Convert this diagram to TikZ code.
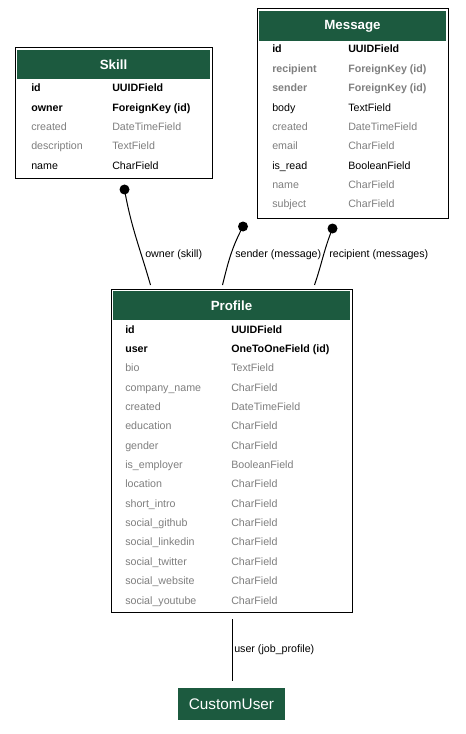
\documentclass[tikz,border=0pt]{standalone}
\usepackage{fontspec}
\setmainfont{Liberation Sans}
\definecolor{hdr}{HTML}{1C5A3F}
\definecolor{gr}{HTML}{7F7F7F}
\begin{document}
\begin{tikzpicture}[x=0.75pt,y=-0.75pt,
  tbl/.style={draw=black, line width=0.75pt, fill=white, inner sep=0pt},
  hdrbox/.style={fill=hdr, text=white, inner sep=0pt, font=\fontsize{10}{12}\selectfont\bfseries},
  fld/.style={anchor=base west, inner sep=0pt, font=\fontsize{8}{10}\selectfont},
  fb/.style={fld, font=\fontsize{8}{10}\selectfont\bfseries, text=black},
  fbg/.style={fld, font=\fontsize{8}{10}\selectfont\bfseries, text=gr},
  fn/.style={fld, text=black},
  fg/.style={fld, text=gr},
  dot/.style={circle, fill=black, inner sep=0pt, minimum size=7.5pt},
  edge/.style={draw=black, line width=0.75pt},
  elabel/.style={anchor=base west, inner sep=0pt, font=\fontsize{8}{10}\selectfont}
]
\useasboundingbox (0,0) rectangle (465,734);
\fill[white] (0,0) rectangle (465,734);

% ---------- Skill ----------
\node[tbl, minimum width=147.75pt, minimum height=98.25pt] (skill) at (113.5,113.5) {};
\node[hdrbox, minimum width=144.75pt, minimum height=21.75pt] (skillh) at (113.5,64.5) {Skill};
\foreach \a/\b/\st [count=\i] in {id/UUIDField/fb, owner/ForeignKey (id)/fb, created/DateTimeField/fg, description/TextField/fg, name/CharField/fn}{
  \pgfmathsetmacro{\yy}{92+(\i-1)*19.3}
  \node[\st] (skill-a\i) at (31,\yy) {\a};
  \node[\st] (skill-b\i) at (112,\yy) {\b};
}

% ---------- Message ----------
\node[tbl, minimum width=143.25pt, minimum height=156.75pt] (message) at (352.5,113.5) {};
\node[hdrbox, minimum width=140.25pt, minimum height=22.5pt] (messageh) at (352.5,26) {Message};
\foreach \a/\b/\st [count=\i] in {id/UUIDField/fb, recipient/ForeignKey (id)/fbg, sender/ForeignKey (id)/fbg, body/TextField/fn, created/DateTimeField/fg, email/CharField/fg, is\_read/BooleanField/fn, name/CharField/fg, subject/CharField/fg}{
  \pgfmathsetmacro{\yy}{53+(\i-1)*19.37}
  \node[\st] (message-a\i) at (272,\yy) {\a};
  \node[\st] (message-b\i) at (348,\yy) {\b};
}

% ---------- Profile ----------
\node[tbl, minimum width=180.75pt, minimum height=242.25pt] (profile) at (231.5,450.5) {};
\node[hdrbox, minimum width=177.75pt, minimum height=21.75pt] (profileh) at (231.5,305.5) {Profile};
\foreach \a/\b/\st [count=\i] in {id/UUIDField/fb, user/OneToOneField (id)/fb, bio/TextField/fg, company\_name/CharField/fg, created/DateTimeField/fg, education/CharField/fg, gender/CharField/fg, is\_employer/BooleanField/fg, location/CharField/fg, short\_intro/CharField/fg, social\_github/CharField/fg, social\_linkedin/CharField/fg, social\_twitter/CharField/fg, social\_website/CharField/fg, social\_youtube/CharField/fg}{
  \pgfmathsetmacro{\yy}{333+(\i-1)*19.36}
  \node[\st] (profile-a\i) at (125,\yy) {\a};
  \node[\st] (profile-b\i) at (231,\yy) {\b};
}

% ---------- CustomUser ----------
\node[fill=hdr, text=white, inner sep=0pt, minimum width=80.25pt, minimum height=24pt,
  font=\fontsize{11.5}{13}\selectfont] (customuser) at (231.5,704) {CustomUser};

% ---------- connectors ----------
\node[dot] (dskill) at (124.5,189.5) {};
\node[dot] (dsender) at (243,226.5) {};
\node[dot] (drecip) at (332.5,228.5) {};
\coordinate (pown) at (150.5,285);
\coordinate (psend) at (222.5,285);
\coordinate (precip) at (314.5,285);
\coordinate (ptop) at (232,619);
\coordinate (cbot) at (232,681);

\draw[edge] (dskill.center) to[out=-80,in=106] (pown);
\draw[edge] (dsender.center) to[out=-118,in=76] (psend);
\draw[edge] (drecip.center) to[out=-112,in=71] (precip);
\draw[edge] (ptop) -- (cbot);

\node[elabel] (lown) at (145,257) {owner (skill)};
\node[elabel] (lsend) at (235,257) {sender (message)};
\node[elabel] (lrecip) at (329,257) {recipient (messages)};
\node[elabel] (luser) at (234,652) {user (job\_profile)};
\end{tikzpicture}
\end{document}
